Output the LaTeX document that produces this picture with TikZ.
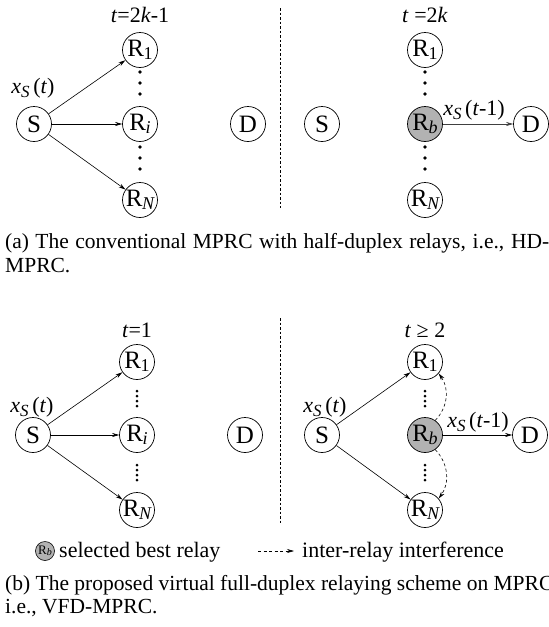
\documentclass[tikz,border=0pt]{standalone}
\usepackage{fontspec}
\setmainfont{Liberation Serif}
\usetikzlibrary{arrows.meta}
\newcommand\nR[1]{R\kern-0.5pt\raisebox{-0.12em}{\fontsize{18}{18}\selectfont #1}}
\newcommand\xsl[1]{\textit{x}\raisebox{-0.2em}{\fontsize{17}{17}\selectfont\itshape S}\,(#1)}
\begin{document}
\begin{tikzpicture}[x=1pt,y=-1pt,
  nd/.style={circle,draw,line width=0.7pt,minimum size=35pt,inner sep=0pt,font=\fontsize{25}{25}\selectfont},
  sel/.style={nd,fill=black!30},
  lbl/.style={font=\fontsize{22}{22}\selectfont,inner sep=0pt},
  captxt/.style={font=\fontsize{21.5}{21.5}\selectfont,inner sep=0pt,anchor=base west},
  arr/.style={-{Stealth[length=7pt,width=4pt]},line width=0.6pt},
  iri/.style={arr,dash pattern=on 3pt off 2.5pt},
  divider/.style={line width=0.5pt,dash pattern=on 2.5pt off 2pt}]
\useasboundingbox (0,0) rectangle (549,627);

% ---------- (a) left: t = 2k-1
\node[lbl] (ta) at (140,15) {\textit{t}=2\textit{k}-1};
\node[nd] (S1) at (34,124) {S};
\node[nd] (R11) at (140,50) {\nR{1}};
\node[nd] (Ri1) at (140,124) {\nR{\itshape i}};
\node[nd] (RN1) at (140,200) {\nR{\itshape N}};
\node[nd] (D1) at (248,124) {D};
\node[lbl] (xa) at (33,88) {\xsl{\textit{t}}};
\draw[arr] (S1) -- (R11);
\draw[arr] (S1) -- (Ri1);
\draw[arr] (S1) -- (RN1);
\foreach \y in {72,83,94,147,158,169} \fill (140,\y) circle (1.8);

\coordinate (dvA1) at (280,8);
\coordinate (dvA2) at (280,208);
\draw[divider] (dvA1) -- (dvA2);

% ---------- (a) right: t = 2k
\node[lbl] (tb) at (425,15) {\textit{t} =2\textit{k}};
\node[nd] (S2) at (322,124) {S};
\node[nd] (R12) at (425,50) {\nR{1}};
\node[sel] (Rb2) at (425,124) {\nR{\itshape b}};
\node[nd] (RN2) at (425,200) {\nR{\itshape N}};
\node[nd] (D2) at (531,124) {D};
\draw[arr,black!75] (Rb2) -- (D2);
\node[lbl] (xb) at (474,110) {\xsl{\textit{t}-1}};
\foreach \y in {72,83,94,147,158,169} \fill (425,\y) circle (1.8);

% caption (a)
\node[captxt] (capa1) at (5,248) {\makebox[544pt][s]{(a) The conventional MPRC with half-duplex relays, i.e., HD-}};
\node[captxt] (capa2) at (5,272) {MPRC.};

% ---------- (b) left: t = 1
\node[lbl] (tc) at (137,330) {\textit{t}=1};
\node[nd] (S3) at (33,435) {S};
\node[nd] (R13) at (137,362) {\nR{1}};
\node[nd] (Ri3) at (137,435) {\nR{\itshape i}};
\node[nd] (RN3) at (137,510) {\nR{\itshape N}};
\node[nd] (D3) at (245,435) {D};
\node[lbl] (xc) at (32,407) {\xsl{\textit{t}}};
\draw[arr] (S3) -- (R13);
\draw[arr] (S3) -- (Ri3);
\draw[arr] (S3) -- (RN3);
\foreach \y in {391,396,401,406,465,470,475,480} \fill (137,\y) circle (1.5);

\coordinate (dvB1) at (280,318);
\coordinate (dvB2) at (280,523);
\draw[divider] (dvB1) -- (dvB2);

% ---------- (b) right: t >= 2
\node[lbl] (td) at (425,330) {\textit{t} ≥ 2};
\node[nd] (S4) at (322,435) {S};
\node[nd] (R14) at (425,362) {\nR{1}};
\node[sel] (Rb4) at (425,435) {\nR{\itshape b}};
\node[nd] (RN4) at (425,510) {\nR{\itshape N}};
\node[nd] (D4) at (530,435) {D};
\node[lbl] (xd) at (325,407) {\xsl{\textit{t}}};
\draw[arr] (S4) -- (R14);
\draw[arr] (S4) -- (RN4);
\draw[arr] (Rb4) -- (D4);
\node[lbl] (xe) at (478,422) {\xsl{\textit{t}-1}};
\draw[iri] (Rb4.55) to[bend right=40] (R14.-40);
\draw[iri] (Rb4.-55) to[bend left=40] (RN4.40);
\foreach \y in {391,396,401,406,465,470,475,480} \fill (425,\y) circle (1.5);

% legend
\node[circle,draw,line width=0.6pt,fill=black!30,minimum size=19pt,inner sep=0pt,font=\fontsize{13}{13}\selectfont] (lg) at (45,551) {R\raisebox{-0.12em}{\fontsize{10}{10}\selectfont\itshape b}};
\node[lbl,anchor=base west] (lgt) at (59,557) {selected best relay};
\coordinate (la1) at (258,551);
\coordinate (la2) at (294,551);
\draw[iri] (la1) -- (la2);
\node[lbl,anchor=base west] (lgt2) at (302,557) {inter-relay interference};

% caption (b)
\node[captxt] (capb1) at (5,590) {(b) The proposed virtual full-duplex relaying scheme on MPRC,};
\node[captxt] (capb2) at (5,613) {i.e., VFD-MPRC.};
\end{tikzpicture}
\end{document}
